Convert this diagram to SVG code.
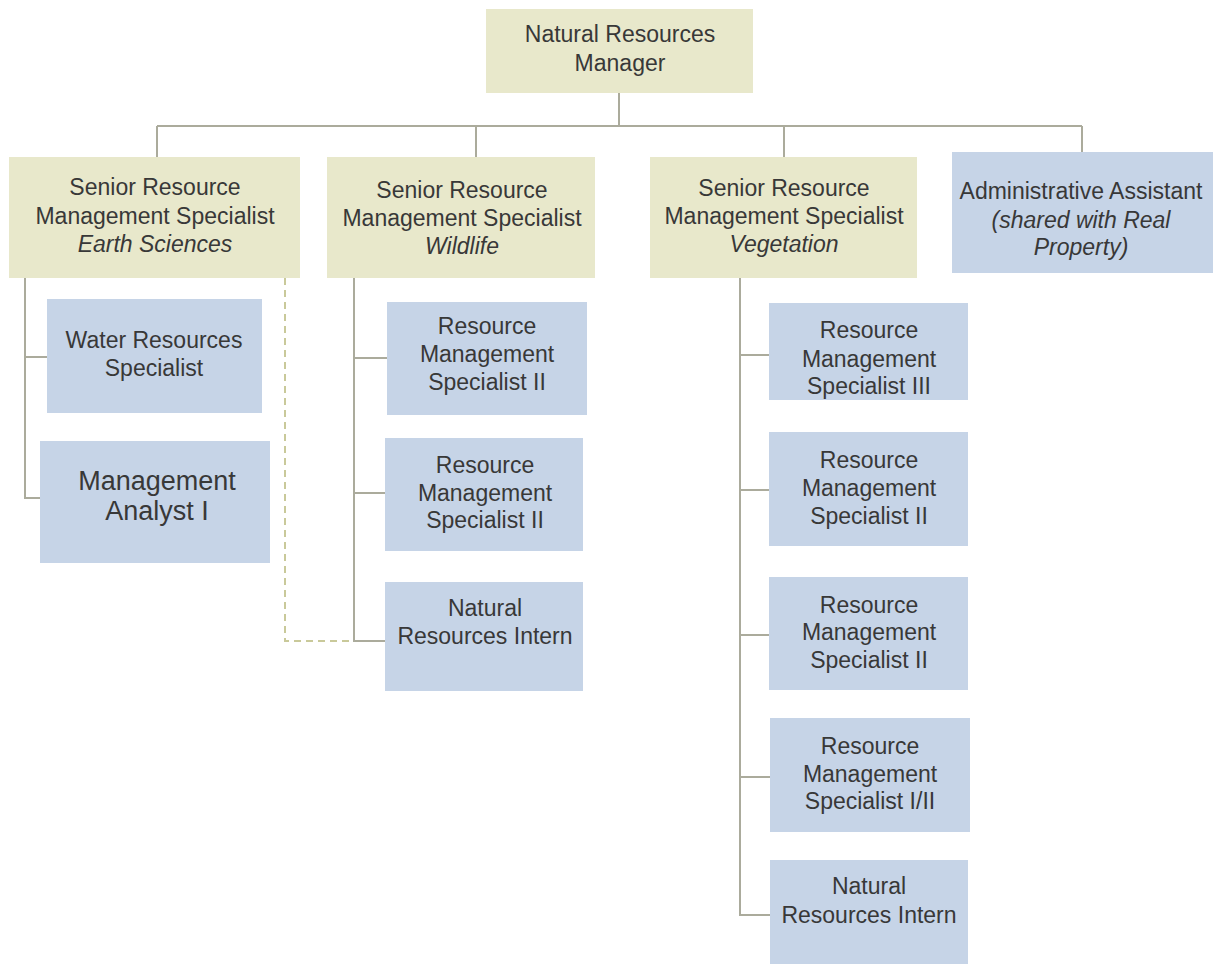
<svg xmlns="http://www.w3.org/2000/svg" width="1213" height="965" viewBox="0 0 1213 965">
<style>
.tan{fill:#E8E8CB}
.blue{fill:#C6D4E7}
text{font-family:"Liberation Sans",Arial,sans-serif;font-size:23px;fill:#383838;text-anchor:middle}
.it{font-style:italic}
.big{font-size:27px}
.ln{stroke:#ABAB9C;stroke-width:2;fill:none}
.dash{stroke:#C9C99A;stroke-width:2;fill:none;stroke-dasharray:7 5}
</style>
<rect width="1213" height="965" fill="#fff"/>
<g id="connectors">
<path class="ln" d="M619 93V126M157 126H1082M157 126V157M476 126V157M784 126V157M1082 126V152"/>
<path class="ln" d="M25 278V498H40M25 357H47"/>
<path class="ln" d="M354 278V641H385M354 358H387M354 493H385"/>
<path class="ln" d="M740 278V915H770M740 355H769M740 490H769M740 635H769M740 777H770"/>
<path class="dash" d="M285 278V641H354"/>
</g>
<g id="manager"><rect class="tan" x="486" y="9" width="267" height="84"/><text x="620" y="42">Natural Resources</text><text x="620" y="71">Manager</text></g>
<g id="earth"><rect class="tan" x="9" y="157" width="291" height="121"/><text x="155" y="195">Senior Resource</text><text x="155" y="224">Management Specialist</text><text class="it" x="155" y="252">Earth Sciences</text></g>
<g id="wildlife"><rect class="tan" x="327" y="157" width="268" height="121"/><text x="462" y="198">Senior Resource</text><text x="462" y="226">Management Specialist</text><text class="it" x="462" y="254">Wildlife</text></g>
<g id="vegetation"><rect class="tan" x="650" y="157" width="267" height="121"/><text x="784" y="196">Senior Resource</text><text x="784" y="224">Management Specialist</text><text class="it" x="784" y="252">Vegetation</text></g>
<g id="admin"><rect class="blue" x="952" y="152" width="261" height="121"/><text x="1081" y="199">Administrative Assistant</text><text class="it" x="1081" y="228">(shared with Real</text><text class="it" x="1081" y="255">Property)</text></g>
<g id="water"><rect class="blue" x="47" y="299" width="215" height="114"/><text x="154" y="348">Water Resources</text><text x="154" y="376">Specialist</text></g>
<g id="analyst"><rect class="blue" x="40" y="441" width="230" height="122"/><text class="big" x="157" y="490">Management</text><text class="big" x="157" y="520">Analyst I</text></g>
<g id="w-rms1"><rect class="blue" x="387" y="302" width="200" height="113"/><text x="487" y="334">Resource</text><text x="487" y="362">Management</text><text x="487" y="390">Specialist II</text></g>
<g id="w-rms2"><rect class="blue" x="385" y="438" width="198" height="113"/><text x="485" y="473">Resource</text><text x="485" y="501">Management</text><text x="485" y="528">Specialist II</text></g>
<g id="w-intern"><rect class="blue" x="385" y="582" width="198" height="109"/><text x="485" y="616">Natural</text><text x="485" y="644">Resources Intern</text></g>
<g id="v-rms3"><rect class="blue" x="769" y="303" width="199" height="97"/><text x="869" y="338">Resource</text><text x="869" y="367">Management</text><text x="869" y="394">Specialist III</text></g>
<g id="v-rms2a"><rect class="blue" x="769" y="432" width="199" height="114"/><text x="869" y="468">Resource</text><text x="869" y="496">Management</text><text x="869" y="524">Specialist II</text></g>
<g id="v-rms2b"><rect class="blue" x="769" y="577" width="199" height="113"/><text x="869" y="613">Resource</text><text x="869" y="640">Management</text><text x="869" y="668">Specialist II</text></g>
<g id="v-rms12"><rect class="blue" x="770" y="718" width="200" height="114"/><text x="870" y="754">Resource</text><text x="870" y="782">Management</text><text x="870" y="809">Specialist I/II</text></g>
<g id="v-intern"><rect class="blue" x="770" y="860" width="198" height="104"/><text x="869" y="894">Natural</text><text x="869" y="923">Resources Intern</text></g>
</svg>
